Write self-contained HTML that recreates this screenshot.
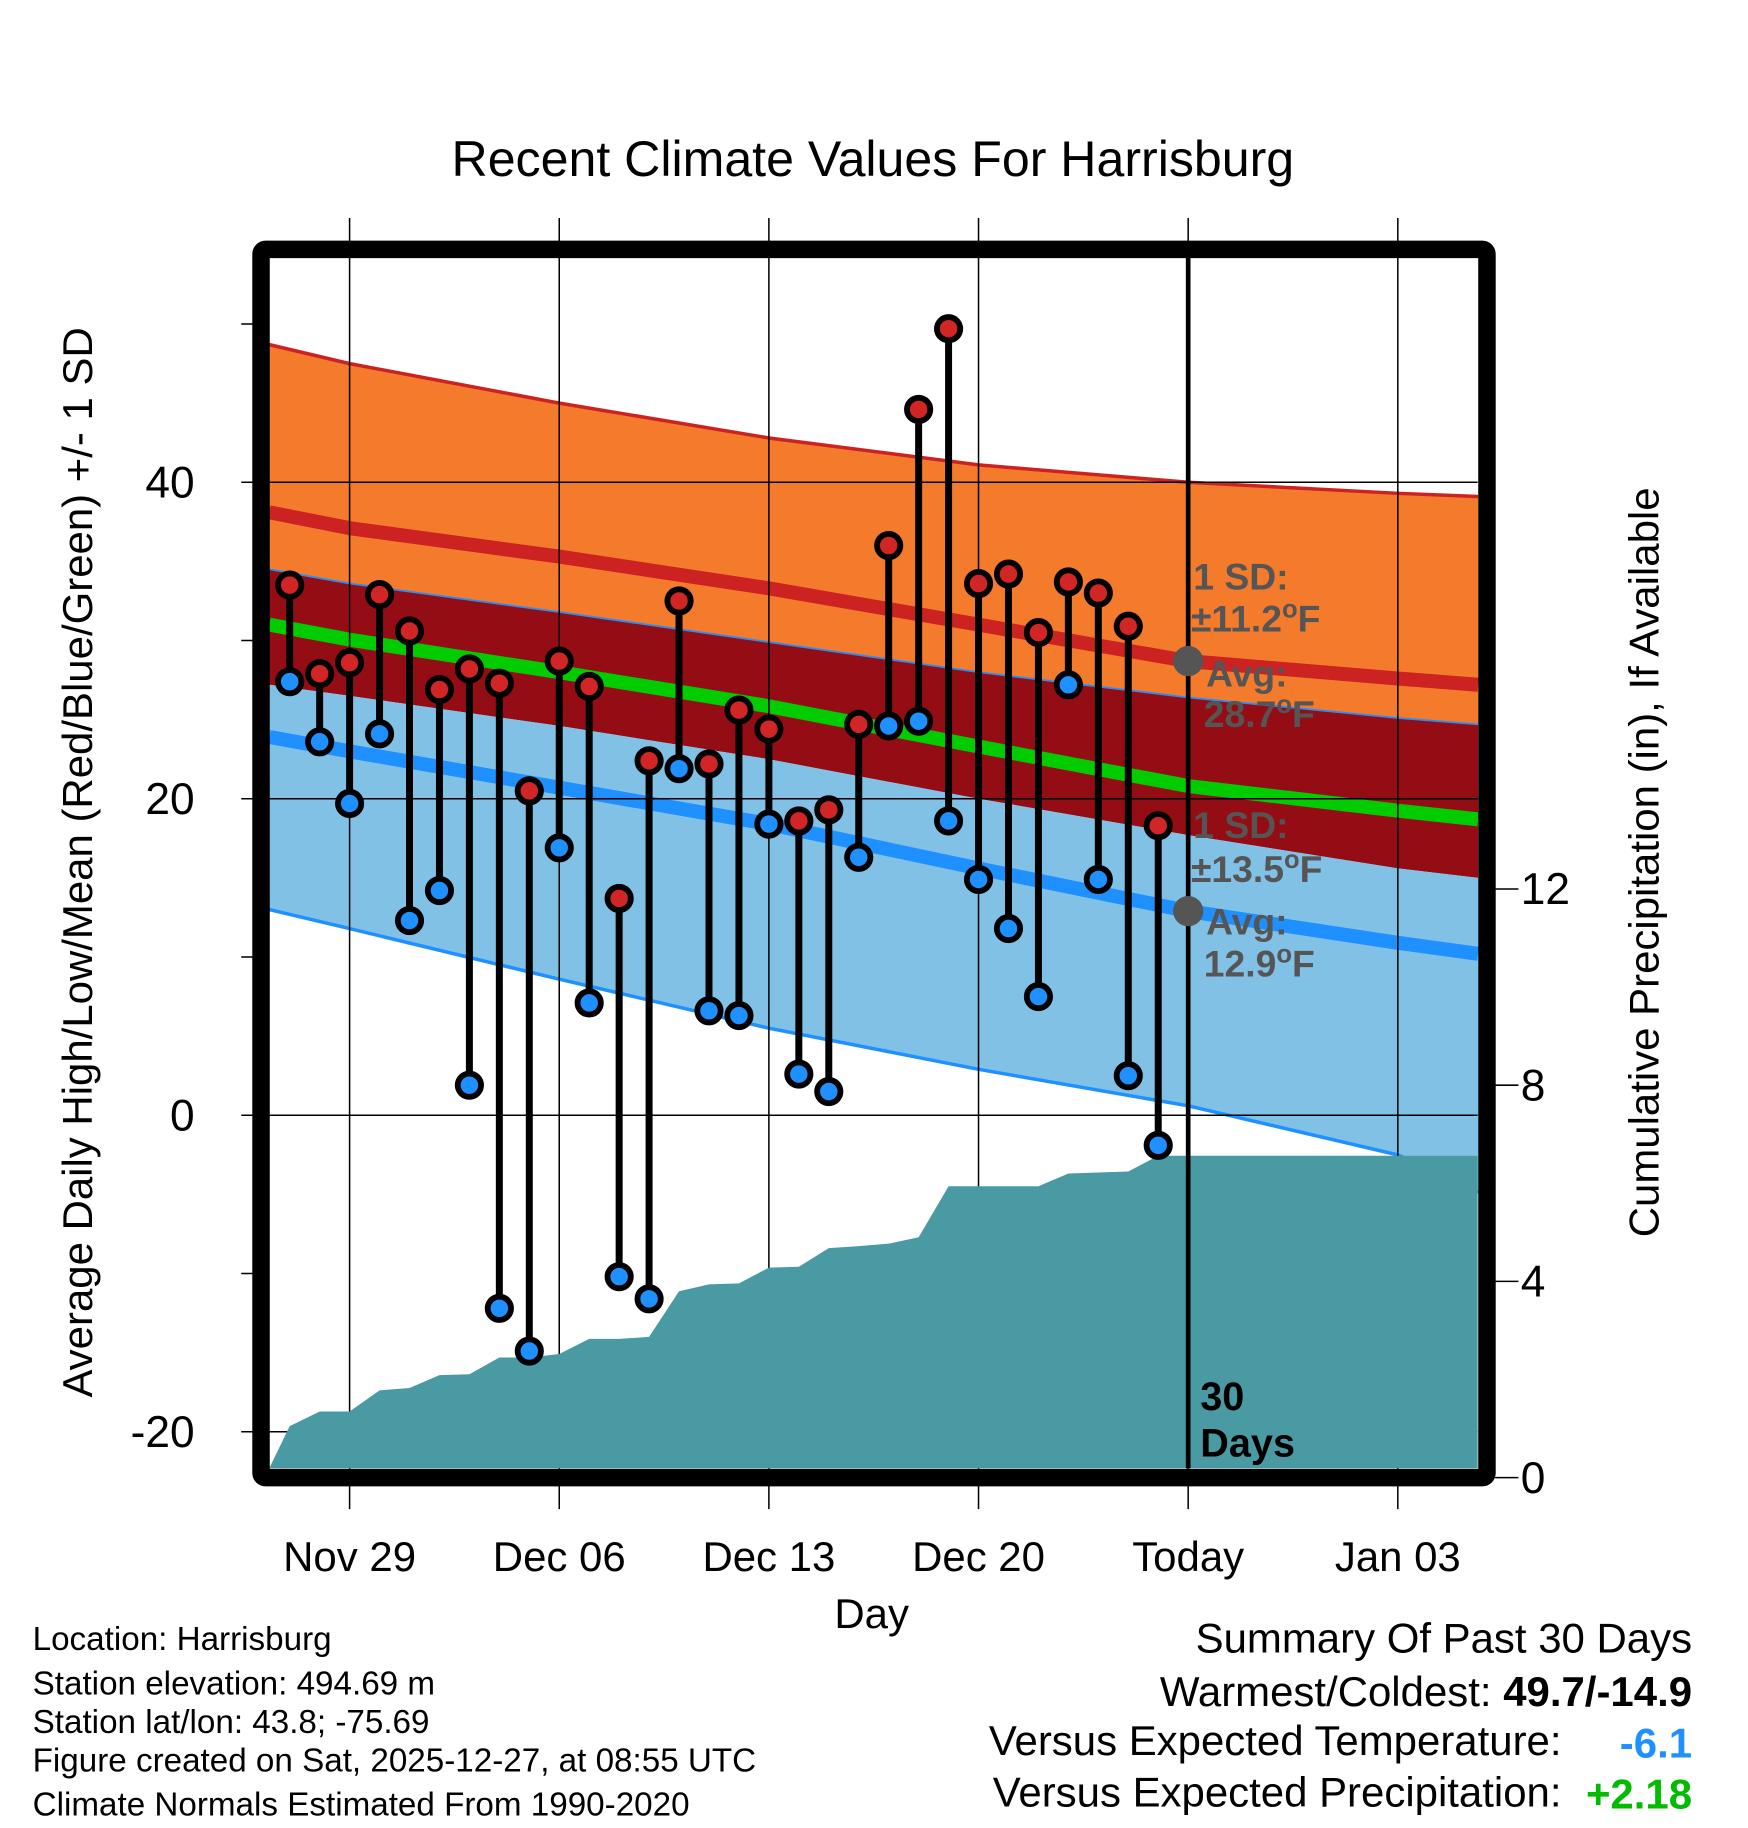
<!DOCTYPE html>
<html><head><meta charset="utf-8">
<style>
html,body{margin:0;padding:0;background:#fff;}
svg{display:block;font-family:"Liberation Sans",Arial,sans-serif;}
</style></head>
<body>
<svg id="chart" width="1748" height="1828" viewBox="0 0 1500 1568.6" xmlns="http://www.w3.org/2000/svg">
<text x="749" y="151" font-size="43" text-anchor="middle">Recent Climate Values For Harrisburg</text>
<g id="bands"></g>
<g id="grid"></g>
<g id="precip"></g>
<g id="stems"></g>
<g id="annot"></g>
<g id="axes"></g>
</svg>
<script>
// ---- data ----
const days = ["Nov 27","Nov 28","Nov 29","Nov 30","Dec 01","Dec 02","Dec 03","Dec 04","Dec 05","Dec 06","Dec 07","Dec 08","Dec 09","Dec 10","Dec 11","Dec 12","Dec 13","Dec 14","Dec 15","Dec 16","Dec 17","Dec 18","Dec 19","Dec 20","Dec 21","Dec 22","Dec 23","Dec 24","Dec 25","Dec 26"];
const dayOffsets = [-2,-1,0,1,2,3,4,5,6,7,8,9,10,11,12,13,14,15,16,17,18,19,20,21,22,23,24,25,26,27];
const highs = [33.5,27.9,28.6,32.9,30.6,26.9,28.2,27.3,20.5,28.7,27.1,13.7,22.4,32.5,22.2,25.6,24.4,18.6,19.3,24.7,36.0,44.6,49.7,33.6,34.2,30.5,33.7,33.0,30.9,18.3];
const lows = [27.4,23.6,19.7,24.1,12.3,14.2,1.9,-12.2,-14.9,16.9,7.1,-10.2,-11.6,21.9,6.6,6.3,18.4,2.6,1.5,16.3,24.6,24.9,18.6,14.9,11.8,7.5,27.2,14.9,2.5,-1.9];
const precip = [1.05,1.35,1.35,1.78,1.83,2.09,2.11,2.45,2.45,2.52,2.83,2.83,2.87,3.80,3.94,3.96,4.28,4.30,4.68,4.72,4.77,4.90,5.94,5.94,5.94,5.94,6.20,6.22,6.24,6.56];
// normals at selected day offsets (relative to Nov 29)
const normDays = [-2.68,0,7,14,21,28,35,37.68];
const normUpper = [48.7,47.5,45.0,42.8,41.1,40.0,39.3,39.1];
const normAvgHigh = [38.1,37.1,35.3,33.3,31.0,28.7,27.6,27.2];
const normHighMinus = [34.5,33.6,31.8,29.9,28.0,26.4,25.1,24.7];
const normMean = [31.0,30.05,28.0,25.85,23.3,20.8,19.25,18.7];
const normLowPlus = [27.2,26.5,24.6,22.5,20.0,17.7,15.6,15.0];
const normAvgLow = [23.9,23.0,20.7,18.4,15.6,12.9,10.9,10.2];
const normLower = [13.0,11.8,8.6,5.5,2.9,0.6,-2.5,-4.9];
const xTickDays = [0,7,14,21,28,35];
const xTickLabels = ["Nov 29","Dec 06","Dec 13","Dec 20","Today","Jan 03"];
const yTicks = [-20,0,20,40];
const yMinor = [-10,10,30,50];
const pTicks = [0,4,8,12];

// ---- scales ----
const X0=231, X1=1268, Y0=221, Y1=1260;
const xs = d => 300 + d*25.7;
const ys = v => 957 - v*13.58;
const ps = v => 1268 - v*42.1;
const NS="http://www.w3.org/2000/svg";
function mk(tag, attrs, parent, text){
  const e=document.createElementNS(NS,tag);
  for(const k in attrs) e.setAttribute(k,attrs[k]);
  if(text!==undefined) e.textContent=text;
  parent.appendChild(e); return e;
}
const bands=document.getElementById('bands'), grid=document.getElementById('grid'),
 pr=document.getElementById('precip'), st=document.getElementById('stems'),
 an=document.getElementById('annot'), ax=document.getElementById('axes');

function linePts(arr){return normDays.map((d,i)=>xs(d).toFixed(1)+','+ys(arr[i]).toFixed(1));}
function band(top,bot,fill,name){
  const p=linePts(top).concat(linePts(bot).reverse()).join(' ');
  const el=mk('polygon',{points:p,fill:fill},bands);
  
  
}
band(normUpper,normHighMinus,'#f47a2c','high-sd-band');
band(normHighMinus,normLowPlus,'#940d14','mean-sd-band');
band(normLowPlus,normLower,'#82c1e6','low-sd-band');
function line(arr,col,w,name){
  const el=mk('polyline',{points:linePts(arr).join(' '),fill:'none',stroke:col,'stroke-width':w,'stroke-linejoin':'round'},bands);
  
  
}
line(normUpper,'#cc2222',3,'high-upper-sd-line');
line(normHighMinus,'#1e90ff',1.5,'high-lower-sd-line');
line(normLower,'#1e90ff',3,'low-lower-sd-line');
line(normAvgHigh,'#cc2222',12,'avg-high-line');
line(normAvgLow,'#1e90ff',12,'avg-low-line');
line(normMean,'#00cc00',12,'avg-mean-line');

// grid
xTickDays.forEach((d,i)=>{
  const g=mk('line',{x1:xs(d),x2:xs(d),y1:187,y2:1295,stroke:'#000','stroke-width':1.3},grid);
  
  
});
yTicks.forEach(v=>{
  const g=mk('line',{x1:207,x2:X1,y1:ys(v),y2:ys(v),stroke:'#000','stroke-width':1.3},grid);
  
  
});

// precip
let pp=[X0+','+Y1];
precip.forEach((v,i)=>{pp.push(xs(dayOffsets[i]).toFixed(1)+','+ps(v).toFixed(1));});
pp.push(X1+','+ps(precip[precip.length-1]).toFixed(1));
pp.push(X1+','+Y1);
const pa=mk('polygon',{points:pp.join(' '),fill:'#4a9aa3'},pr);



// today line
const tl=mk('line',{x1:xs(28),x2:xs(28),y1:Y0,y2:Y1,stroke:'#000','stroke-width':4},pr);



// stems & dots
days.forEach((d,i)=>{
  const x=xs(dayOffsets[i]);
  const s=mk('line',{x1:x,x2:x,y1:ys(highs[i]),y2:ys(lows[i]),stroke:'#000','stroke-width':6},st);
  
  
});
days.forEach((d,i)=>{
  const x=xs(dayOffsets[i]);
  const h=mk('circle',{cx:x,cy:ys(highs[i]),r:10,fill:'#d22525',stroke:'#000','stroke-width':5},st);
  
  
  const l=mk('circle',{cx:x,cy:ys(lows[i]),r:10,fill:'#1e90ff',stroke:'#000','stroke-width':5},st);
  
  
});

// annotations
function txt(x,y,s,t,attrs,parent,name){
  const a=Object.assign({x:x,y:y,'font-size':s},attrs||{});
  const e=mk('text',a,parent||an,t);
  
  
  return e;
}
function degTxt(x,y,num,name){
  const e=txt(x,y,32,num,{fill:'#555','font-weight':'bold'},an,name);
  const o=mk('tspan',{dy:-12,'font-size':22},e,'o');
  
  
  const f=mk('tspan',{dy:12},e,'F');
  
  
  return e;
}
const gs={fill:'#555','font-weight':'bold'};
txt(1024,506,32,'1 SD:',gs,an,'high-sd-label');
degTxt(1022,542,'±11.2','high-sd-value');
const d1=mk('circle',{cx:xs(28),cy:ys(28.7),r:13,fill:'#555'},an);


txt(1035,589,32,'Avg:',gs,an,'avg-high-label');
degTxt(1033,624,'28.7','avg-high-value');
txt(1024,719,32,'1 SD:',gs,an,'low-sd-label');
degTxt(1022,757,'±13.5','low-sd-value');
const d2=mk('circle',{cx:xs(28),cy:ys(12.9),r:13,fill:'#555'},an);


txt(1035,802,32,'Avg:',gs,an,'avg-low-label');
degTxt(1033,838,'12.9','avg-low-value');
txt(1030,1210,34,'30',{'font-weight':'bold'},an,'days-count');
txt(1030,1250,34,'Days',{'font-weight':'bold'},an,'days-label');

// frame
const fr=mk('rect',{x:224,y:214,width:1052,height:1054,fill:'none',stroke:'#000','stroke-width':15,rx:4},ax);



// y ticks
yTicks.forEach(v=>{
  txt(167,ys(v)+13,38,String(v),{'text-anchor':'end'},ax,'y-tick-label');
});
yMinor.forEach(v=>{
  const t=mk('line',{x1:207,x2:217,y1:ys(v),y2:ys(v),stroke:'#000','stroke-width':1.3},ax);
  
  
});
pTicks.forEach(v=>{
  const t=mk('line',{x1:1283,x2:1303,y1:ps(v),y2:ps(v),stroke:'#000','stroke-width':1.3},ax);
  
  
  txt(1305,ps(v)+13,38,String(v),{},ax,'precip-tick-label');
});
xTickDays.forEach((d,i)=>{
  txt(xs(d),1348,36,xTickLabels[i],{'text-anchor':'middle'},ax,'x-tick-label');
});
txt(748,1397,36,'Day',{'text-anchor':'middle'},ax,'x-axis-title');
txt(0,0,36,'Average Daily High/Low/Mean (Red/Blue/Green) +/- 1 SD',{'text-anchor':'middle',transform:'translate(79,740) rotate(-90)'},ax,'y-axis-title');
txt(0,0,36,'Cumulative Precipitation (in), If Available',{'text-anchor':'middle',transform:'translate(1423,740) rotate(-90)'},ax,'y2-axis-title');

// info text
txt(28,1416,28.5,'Location: Harrisburg',{},ax,'location-text');
txt(28,1454,28.5,'Station elevation: 494.69 m',{},ax,'elevation-text');
txt(28,1487,28.5,'Station lat/lon: 43.8; -75.69',{},ax,'latlon-text');
txt(28,1520,28.5,'Figure created on Sat, 2025-12-27, at 08:55 UTC',{},ax,'created-text');
txt(28,1558,28.5,'Climate Normals Estimated From 1990-2020',{},ax,'normals-text');
txt(1452,1418,36,'Summary Of Past 30 Days',{'text-anchor':'end'},ax,'summary-title');
const w=txt(1452,1464,36,'',{'text-anchor':'end'},ax,'warmest-coldest');
const ts1=mk('tspan',{},w,'Warmest/Coldest: ');


const ts2=mk('tspan',{'font-weight':'bold'},w,'49.7/-14.9');


txt(1340,1506,36,'Versus Expected Temperature:',{'text-anchor':'end'},ax,'temp-anomaly-label');
txt(1452,1508,36,'-6.1',{'text-anchor':'end',fill:'#1e90ff','font-weight':'bold'},ax,'temp-anomaly-value');
txt(1340,1550,36,'Versus Expected Precipitation:',{'text-anchor':'end'},ax,'precip-anomaly-label');
txt(1452,1552,36,'+2.18',{'text-anchor':'end',fill:'#00bb00','font-weight':'bold'},ax,'precip-anomaly-value');
</script>
</body></html>
